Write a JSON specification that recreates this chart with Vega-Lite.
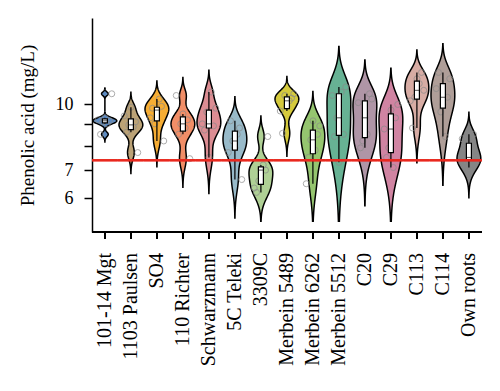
{
  "$schema": "https://vega.github.io/schema/vega-lite/v6.json",
  "padding": {"left": 18, "top": 18, "right": 5, "bottom": 0},
  "bounds": "flush",
  "data": {"values": [
    {"cat": "101-14 Mgt", "value": 8.5, "rep": 2}, {"cat": "101-14 Mgt", "value": 9.0, "rep": 5}, {"cat": "101-14 Mgt", "value": 9.1, "rep": 3}, {"cat": "101-14 Mgt", "value": 9.15, "rep": 6}, {"cat": "101-14 Mgt", "value": 9.2, "rep": 1}, {"cat": "101-14 Mgt", "value": 9.3, "rep": 4}, {"cat": "101-14 Mgt", "value": 10.6, "rep": 7},
    {"cat": "1103 Paulsen", "value": 7.7, "rep": 7}, {"cat": "1103 Paulsen", "value": 8.6, "rep": 2}, {"cat": "1103 Paulsen", "value": 8.85, "rep": 5}, {"cat": "1103 Paulsen", "value": 8.95, "rep": 3}, {"cat": "1103 Paulsen", "value": 9.1, "rep": 6}, {"cat": "1103 Paulsen", "value": 9.4, "rep": 1}, {"cat": "1103 Paulsen", "value": 9.85, "rep": 4},
    {"cat": "SO4", "value": 8.2, "rep": 7}, {"cat": "SO4", "value": 9.0, "rep": 3}, {"cat": "SO4", "value": 9.3, "rep": 1}, {"cat": "SO4", "value": 9.7, "rep": 4}, {"cat": "SO4", "value": 9.8, "rep": 2}, {"cat": "SO4", "value": 9.9, "rep": 6}, {"cat": "SO4", "value": 10.3, "rep": 5},
    {"cat": "110 Richter", "value": 7.45, "rep": 7}, {"cat": "110 Richter", "value": 8.5, "rep": 2}, {"cat": "110 Richter", "value": 8.8, "rep": 5}, {"cat": "110 Richter", "value": 9.0, "rep": 3}, {"cat": "110 Richter", "value": 9.2, "rep": 6}, {"cat": "110 Richter", "value": 9.5, "rep": 4}, {"cat": "110 Richter", "value": 10.5, "rep": 1},
    {"cat": "Schwarzmann", "value": 7.5, "rep": 4}, {"cat": "Schwarzmann", "value": 8.7, "rep": 2}, {"cat": "Schwarzmann", "value": 8.9, "rep": 6}, {"cat": "Schwarzmann", "value": 9.0, "rep": 1}, {"cat": "Schwarzmann", "value": 9.6, "rep": 3}, {"cat": "Schwarzmann", "value": 9.8, "rep": 7}, {"cat": "Schwarzmann", "value": 10.7, "rep": 5},
    {"cat": "5C Teleki", "value": 6.65, "rep": 7}, {"cat": "5C Teleki", "value": 7.7, "rep": 1}, {"cat": "5C Teleki", "value": 7.9, "rep": 4}, {"cat": "5C Teleki", "value": 8.2, "rep": 3}, {"cat": "5C Teleki", "value": 8.5, "rep": 5}, {"cat": "5C Teleki", "value": 8.8, "rep": 6}, {"cat": "5C Teleki", "value": 9.15, "rep": 2},
    {"cat": "3309C", "value": 6.2, "rep": 2}, {"cat": "3309C", "value": 6.35, "rep": 1}, {"cat": "3309C", "value": 6.6, "rep": 3}, {"cat": "3309C", "value": 7.0, "rep": 6}, {"cat": "3309C", "value": 7.05, "rep": 4}, {"cat": "3309C", "value": 7.2, "rep": 5}, {"cat": "3309C", "value": 8.4, "rep": 7},
    {"cat": "Merbein 5489", "value": 8.55, "rep": 2}, {"cat": "Merbein 5489", "value": 9.65, "rep": 1}, {"cat": "Merbein 5489", "value": 9.9, "rep": 4}, {"cat": "Merbein 5489", "value": 10.2, "rep": 5}, {"cat": "Merbein 5489", "value": 10.35, "rep": 6}, {"cat": "Merbein 5489", "value": 10.5, "rep": 3}, {"cat": "Merbein 5489", "value": 10.6, "rep": 7},
    {"cat": "Merbein 6262", "value": 6.5, "rep": 1}, {"cat": "Merbein 6262", "value": 7.5, "rep": 2}, {"cat": "Merbein 6262", "value": 7.8, "rep": 5}, {"cat": "Merbein 6262", "value": 8.25, "rep": 3}, {"cat": "Merbein 6262", "value": 8.5, "rep": 6}, {"cat": "Merbein 6262", "value": 8.9, "rep": 7}, {"cat": "Merbein 6262", "value": 9.15, "rep": 4},
    {"cat": "Merbein 5512", "value": 7.3, "rep": 4}, {"cat": "Merbein 5512", "value": 8.4, "rep": 2}, {"cat": "Merbein 5512", "value": 8.5, "rep": 6}, {"cat": "Merbein 5512", "value": 9.3, "rep": 3}, {"cat": "Merbein 5512", "value": 10.5, "rep": 1}, {"cat": "Merbein 5512", "value": 10.7, "rep": 5}, {"cat": "Merbein 5512", "value": 11.0, "rep": 7},
    {"cat": "C20", "value": 7.9, "rep": 2}, {"cat": "C20", "value": 8.2, "rep": 3}, {"cat": "C20", "value": 8.5, "rep": 5}, {"cat": "C20", "value": 9.3, "rep": 4}, {"cat": "C20", "value": 10.1, "rep": 1}, {"cat": "C20", "value": 10.3, "rep": 7}, {"cat": "C20", "value": 10.6, "rep": 6},
    {"cat": "C29", "value": 7.1, "rep": 5}, {"cat": "C29", "value": 7.5, "rep": 2}, {"cat": "C29", "value": 7.9, "rep": 3}, {"cat": "C29", "value": 8.75, "rep": 1}, {"cat": "C29", "value": 9.3, "rep": 6}, {"cat": "C29", "value": 9.7, "rep": 4}, {"cat": "C29", "value": 10.0, "rep": 7},
    {"cat": "C113", "value": 8.8, "rep": 2}, {"cat": "C113", "value": 10.2, "rep": 1}, {"cat": "C113", "value": 10.4, "rep": 3}, {"cat": "C113", "value": 10.8, "rep": 7}, {"cat": "C113", "value": 11.2, "rep": 5}, {"cat": "C113", "value": 11.5, "rep": 4}, {"cat": "C113", "value": 11.9, "rep": 6},
    {"cat": "C114", "value": 8.4, "rep": 5}, {"cat": "C114", "value": 9.6, "rep": 3}, {"cat": "C114", "value": 10.0, "rep": 4}, {"cat": "C114", "value": 10.4, "rep": 6}, {"cat": "C114", "value": 10.9, "rep": 1}, {"cat": "C114", "value": 11.5, "rep": 7}, {"cat": "C114", "value": 11.9, "rep": 2},
    {"cat": "Own roots", "value": 7.1, "rep": 4}, {"cat": "Own roots", "value": 7.35, "rep": 3}, {"cat": "Own roots", "value": 7.45, "rep": 7}, {"cat": "Own roots", "value": 7.5, "rep": 5}, {"cat": "Own roots", "value": 7.9, "rep": 2}, {"cat": "Own roots", "value": 8.3, "rep": 1}, {"cat": "Own roots", "value": 8.5, "rep": 6}
  ]},
  "facet": {
    "column": {
      "field": "cat", "type": "nominal", "title": null,
      "sort": ["101-14 Mgt", "1103 Paulsen", "SO4", "110 Richter", "Schwarzmann", "5C Teleki", "3309C", "Merbein 5489", "Merbein 6262", "Merbein 5512", "C20", "C29", "C113", "C114", "Own roots"],
      "header": {"labelOrient": "bottom", "labelAngle": -90, "labelAlign": "right", "labelBaseline": "middle", "labelPadding": 21, "labelFont": "Liberation Serif", "labelFontSize": 20, "labelColor": "black"}
    }
  },
  "spacing": 0,
  "resolve": {"scale": {"x": "independent"}},
  "spec": {
    "width": 25.8,
    "height": 214,
    "resolve": {"scale": {"x": "independent"}},
    "layer": [
      {
        "transform": [
          {"density": "value", "groupby": ["cat"], "extent": [5.3, 17], "steps": 500},
          {"filter": "datum.density > 0.0025"}
        ],
        "mark": {"type": "area", "orient": "horizontal", "stroke": "black", "strokeWidth": 1.5, "fillOpacity": 0.92},
        "encoding": {
          "y": {"field": "value", "type": "quantitative", "title": "Phenolic acid (mg/L)",
                "scale": {"type": "log", "domain": [5, 16], "nice": false},
                "axis": {"values": [6, 7, 8, 9, 10], "labelExpr": "datum.value == 8 || datum.value == 9 ? '' : datum.label", "grid": false,
                         "labelFont": "Liberation Serif", "labelFontSize": 18, "labelColor": "black", "labelPadding": 11,
                         "titleFont": "Liberation Serif", "titleFontSize": 19, "titleFontWeight": "normal", "titleColor": "black", "titlePadding": 18,
                         "tickSize": 8, "tickWidth": 1.5, "tickColor": "black", "domainColor": "black", "domainWidth": 1.5}},
          "x": {"field": "density", "type": "quantitative", "stack": "center", "impute": null, "scale": {"zero": false, "nice": false, "padding": 1}, "axis": null},
          "color": {"field": "cat", "type": "nominal", "legend": null,
                    "scale": {"domain": ["101-14 Mgt", "1103 Paulsen", "SO4", "110 Richter", "Schwarzmann", "5C Teleki", "3309C", "Merbein 5489", "Merbein 6262", "Merbein 5512", "C20", "C29", "C113", "C114", "Own roots"],
                              "range": ["#4f81bd", "#b59a6a", "#f5a623", "#f0845a", "#d9838a", "#8fb4c4", "#a8cc8c", "#d1c52c", "#8cc063", "#5aab8b", "#a88c9e", "#cc7a9a", "#d4a59c", "#a8968f", "#7b7b7b"]}}
        }
      },
      {
        "mark": {"type": "point", "filled": false, "size": 36, "strokeWidth": 1, "color": "#8a8a8a", "opacity": 0.7},
        "encoding": {
          "y": {"field": "value", "type": "quantitative", "title": "Phenolic acid (mg/L)"},
          "x": {"field": "rep", "type": "quantitative", "scale": {"domain": [0, 8], "range": [4, 22]}, "axis": null}
        }
      },
      {
        "mark": {"type": "boxplot", "extent": 1.5, "size": 5, "outliers": false, "ticks": false,
                 "box": {"fill": "white", "stroke": "black", "strokeWidth": 1.2},
                 "median": {"color": "black", "strokeWidth": 1.5},
                 "rule": {"color": "black", "strokeWidth": 1.2}},
        "encoding": {
          "y": {"field": "value", "type": "quantitative", "title": "Phenolic acid (mg/L)"}
        }
      },
      {
        "mark": {"type": "rule", "color": "#e8281e", "strokeWidth": 1.5},
        "encoding": {"y": {"datum": 7.38}}
      },
      {
        "mark": {"type": "rule", "color": "black", "strokeWidth": 1.5},
        "encoding": {"y": {"datum": 5}}
      },
      {
        "mark": {"type": "rule", "color": "black", "strokeWidth": 1.5},
        "encoding": {"y": {"datum": 5}, "y2": {"datum": 4.82}}
      }
    ]
  },
  "config": {"view": {"stroke": null}, "font": "Liberation Serif"}
}
